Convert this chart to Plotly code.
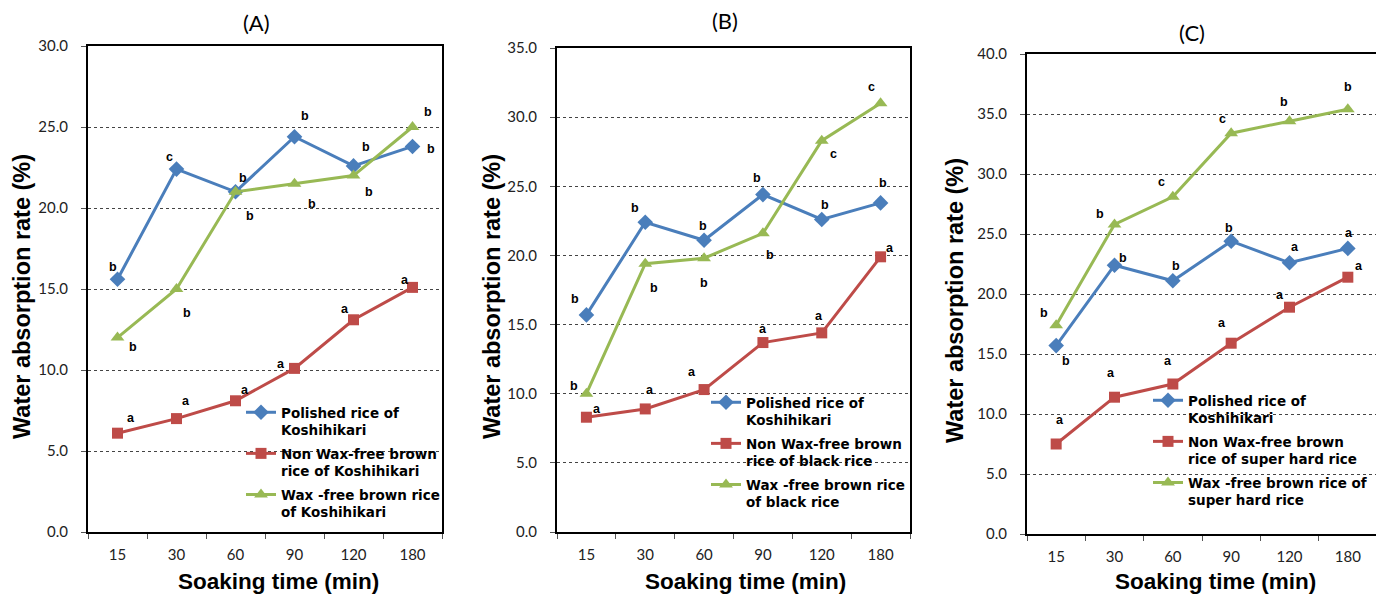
import plotly.graph_objects as go

# ---------------- data ----------------
times = ["15", "30", "60", "90", "120", "180"]

a_polished = [15.6, 22.4, 21.0, 24.4, 22.6, 23.8]
a_nonwax = [6.1, 7.0, 8.1, 10.1, 13.1, 15.1]
a_waxfree = [12.0, 15.0, 21.0, 21.5, 22.0, 25.0]

b_polished = [15.7, 22.4, 21.1, 24.4, 22.6, 23.8]
b_nonwax = [8.3, 8.9, 10.3, 13.7, 14.4, 19.9]
b_waxfree = [10.0, 19.4, 19.8, 21.6, 28.3, 31.0]

c_polished = [15.7, 22.4, 21.1, 24.4, 22.6, 23.8]
c_nonwax = [7.5, 11.4, 12.5, 15.9, 18.9, 21.4]
c_waxfree = [17.4, 25.8, 28.1, 33.4, 34.4, 35.4]

a_polished_lab = ["b", "c", "b", "b", "b", "b"]
a_nonwax_lab = ["a", "a", "a", "a", "a", "a"]
a_waxfree_lab = ["b", "b", "b", "b", "b", "b"]
b_polished_lab = ["b", "b", "b", "b", "b", "b"]
b_nonwax_lab = ["a", "a", "a", "a", "a", "a"]
b_waxfree_lab = ["b", "b", "b", "b", "c", "c"]
c_polished_lab = ["b", "b", "b", "b", "a", "a"]
c_nonwax_lab = ["a", "a", "a", "a", "a", "a"]
c_waxfree_lab = ["b", "b", "c", "c", "b", "b"]

panel_titles = ["(A)", "(B)", "(C)"]
y_max = [30, 35, 40]
names_a = ["Polished rice of<br>Koshihikari", "Non Wax-free brown<br>rice of Koshihikari",
           "Wax -free brown rice<br>of Koshihikari"]
names_b = ["Polished rice of<br>Koshihikari", "Non Wax-free brown<br>rice of black rice",
           "Wax -free brown rice<br>of black rice"]
names_c = ["Polished rice of<br>Koshihikari", "Non Wax-free brown<br>rice of super hard rice",
           "Wax -free brown rice of<br>super hard rice"]
y_title = "Water absorption rate (%)"
x_title = "Soaking time (min)"

# ---------------- styling / layout helpers ----------------
# the page body has an 8px margin, so the figure is made 8px smaller and
# screen positions are converted with that offset
OFF = 8
W, H = 1384 - OFF, 596 - OFF
BLUE, RED, GREEN = "#4a7ebb", "#be4b48", "#98b954"
TICK_FONT = dict(family="Lato, Open Sans, sans-serif", size=15, color="#222")
BOLD = "Liberation Sans, Arial, sans-serif"


def px(sx):
    return (sx - OFF) / W


def py(sy):
    return 1 - (sy - OFF) / H


# label pixel offsets (dx, dy screen, down positive)
off_a = [
    [(-5, -12), (-7, -12), (7, -14), (10, -21), (12, -19), (18, 3)],
    [(13, -15), (9, -18), (9, -11), (-14, -4), (-9, -11), (-8, -7)],
    [(15, 9), (10, 24), (14, 24), (17, 20), (15, 16), (15, -15)],
]
off_b = [
    [(-11, -16), (-10, -14), (-1, -14), (-6, -17), (3, -14), (2, -20)],
    [(11, -8), (5, -19), (-12, -18), (0, -14), (-3, -17), (9, -9)],
    [(-12, -8), (9, 24), (0, 25), (7, 22), (12, 13), (-9, -16)],
]
off_c = [
    [(10, 15), (8, -7), (3, -15), (-2, -13), (5, -16), (1, -15)],
    [(4, -24), (-4, -24), (-5, -23), (-9, -20), (-10, -12), (11, -11)],
    [(-12, -12), (-15, -10), (-11, -15), (-9, -14), (-6, -19), (0, -22)],
]

# plot-area screen boxes (left, right, top, bottom)
boxes = [(88, 442, 46, 532), (557, 910, 48, 532), (1027, 1377, 54, 534)]
title_pos = [(257, 23), (725, 21), (1192, 32)]
ytitle_pos = [(22, 297), (492, 297), (955, 300)]
xtitle_pos = [(278, 581), (745, 581), (1215, 581)]
legend_pos = [(241, 397), (706, 387), (1148, 385)]

panels = [
    ([a_polished, a_nonwax, a_waxfree], [a_polished_lab, a_nonwax_lab, a_waxfree_lab], names_a, off_a),
    ([b_polished, b_nonwax, b_waxfree], [b_polished_lab, b_nonwax_lab, b_waxfree_lab], names_b, off_b),
    ([c_polished, c_nonwax, c_waxfree], [c_polished_lab, c_nonwax_lab, c_waxfree_lab], names_c, off_c),
]

styles = [
    dict(color=BLUE, symbol="diamond", size=12),
    dict(color=RED, symbol="square", size=11),
    dict(color=GREEN, symbol="triangle-up", size=12),
]

fig = go.Figure()
annotations = []
layout = {}

for p, (series, labels, names, offs) in enumerate(panels):
    sfx = "" if p == 0 else str(p + 1)
    xref, yref = "x" + sfx, "y" + sfx
    legname = "legend" + sfx
    for s in range(3):
        st = styles[s]
        fig.add_trace(go.Scatter(
            x=times, y=series[s], name=names[s], mode="lines+markers",
            line=dict(color=st["color"], width=3),
            marker=dict(symbol=st["symbol"], size=st["size"], color=st["color"]),
            xaxis=xref, yaxis=yref, legend=legname, legendgroup=f"g{p}_{s}",
        ))
        for i in range(len(times)):
            dx, dy = offs[s][i]
            annotations.append(dict(
                x=i, y=series[s][i], xref=xref, yref=yref, text=labels[s][i],
                showarrow=False, xshift=dx, yshift=-dy,
                xanchor="center", yanchor="middle",
                font=dict(family=BOLD, size=12.5, color="black", weight="bold"),
            ))
    l, r, t, b = boxes[p]
    layout["xaxis" + sfx] = dict(
        domain=[px(l), px(r)], anchor=yref, type="category",
        range=[-0.5, 5.5], tickson="boundaries", ticks="outside", ticklen=5,
        tickcolor="#555", tickwidth=1, showline=True, linecolor="black",
        linewidth=2, mirror=True, showgrid=False, tickfont=TICK_FONT,
        categoryorder="array", categoryarray=times, ticklabelstandoff=8,
        automargin=False,
    )
    layout["yaxis" + sfx] = dict(
        domain=[py(b), py(t)], anchor=xref, range=[0, y_max[p]],
        dtick=5, tickformat=".1f", ticks="outside", ticklen=5, tickcolor="#555",
        showline=True, linecolor="black", linewidth=2, mirror=True,
        showgrid=True, gridcolor="#444", griddash="dot", gridwidth=1,
        zeroline=False, tickfont=TICK_FONT, ticklabelstandoff=10,
        automargin=False,
    )
    lx, ly = legend_pos[p]
    layout[legname] = dict(
        x=px(lx), y=py(ly), xanchor="left", yanchor="top",
        bgcolor="rgba(0,0,0,0)", valign="top", tracegroupgap=3,
        traceorder="grouped",
        font=dict(family="DejaVu Sans, Liberation Sans, sans-serif", size=13.5,
                  color="black", weight="bold"),
        itemwidth=30,
    )
    tx, ty = title_pos[p]
    annotations.append(dict(x=px(tx), y=py(ty), xref="paper", yref="paper",
                            text=panel_titles[p], showarrow=False,
                            xanchor="center", yanchor="middle",
                            font=dict(family="Lato, Open Sans, sans-serif", size=22, color="black")))
    yx, yy = ytitle_pos[p]
    annotations.append(dict(x=px(yx), y=py(yy), xref="paper", yref="paper",
                            text=y_title, showarrow=False, textangle=-90,
                            xanchor="center", yanchor="middle",
                            font=dict(family=BOLD, size=23.5, color="black", weight="bold")))
    xx, xy = xtitle_pos[p]
    annotations.append(dict(x=px(xx), y=py(xy), xref="paper", yref="paper",
                            text=x_title, showarrow=False,
                            xanchor="center", yanchor="middle",
                            font=dict(family=BOLD, size=22.5, color="black", weight="bold")))

fig.update_layout(
    width=W, height=H, margin=dict(l=0, r=0, t=0, b=0, pad=0, autoexpand=False),
    plot_bgcolor="white", paper_bgcolor="white",
    annotations=annotations, showlegend=True, **layout,
)

fig.write_html("out.html")
